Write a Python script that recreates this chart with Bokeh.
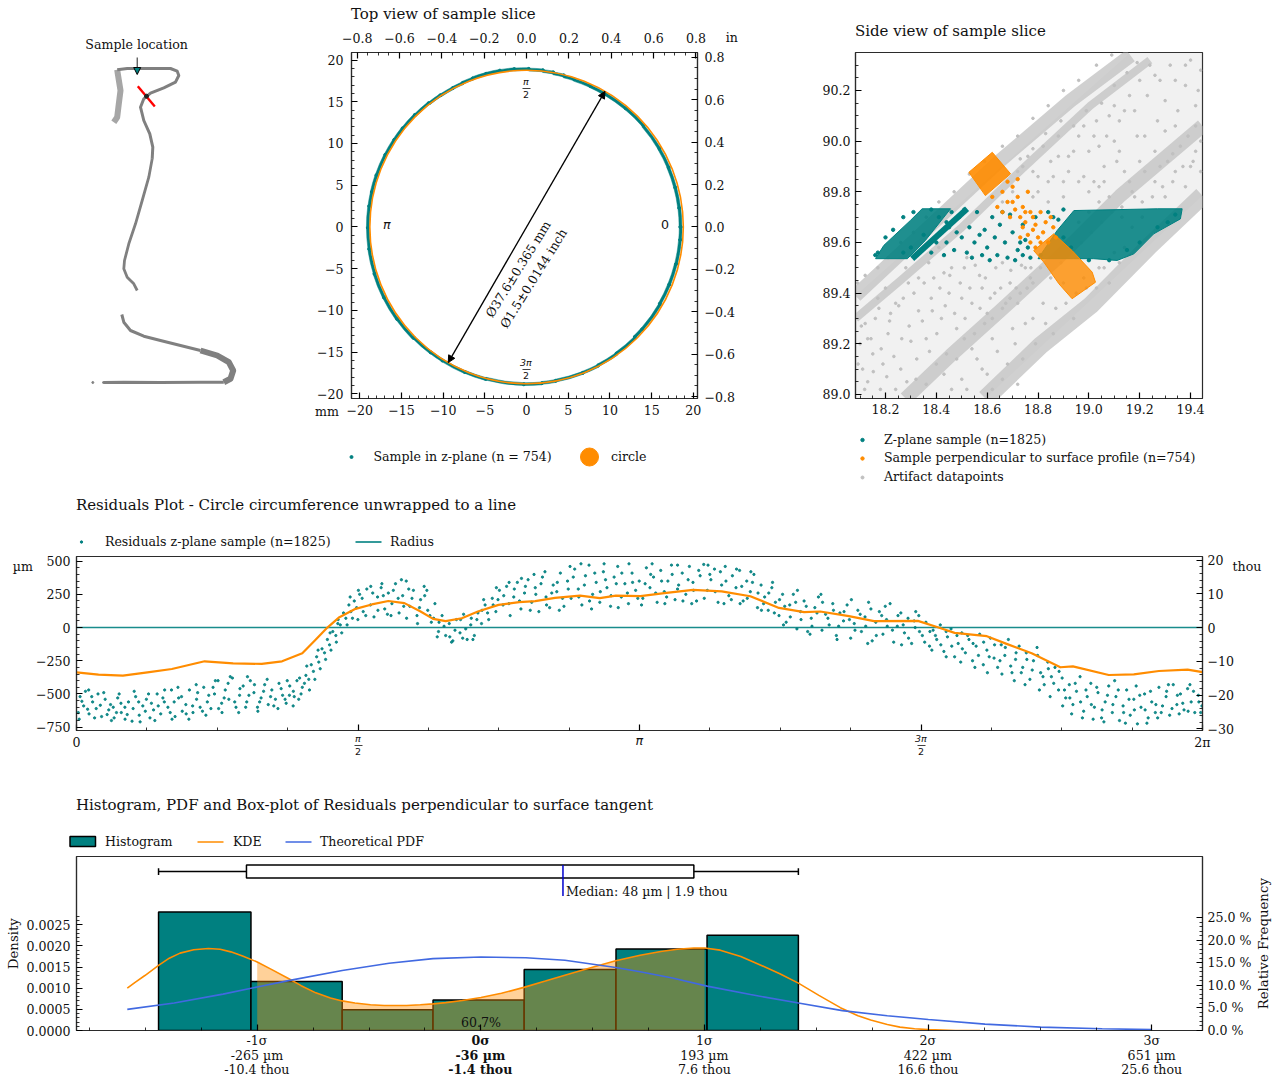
from bokeh.plotting import figure
from bokeh.layouts import column, row
from bokeh.models import (Range1d, LinearAxis, FixedTicker, Label, Arrow, NormalHead)
from bokeh.embed import file_html
from bokeh.resources import INLINE
import math

SERIF = "DejaVu Serif"
SANS = "DejaVu Sans"
TEAL = "#008080"
ORANGE = "#ff8c00"
BLUE = "#4169e1"
SILVER = "#c0c0c0"
FRAME = "#2b2b2b"

# ---- silhouette
sil_hang_x = [113.3, 116.7, 118.3, 120.0, 117.3, 116.7]
sil_hang_y = [121.7, 116.7, 103.3, 90.0, 73.3, 69.3]
sil_top_x = [116.7, 126.7, 146.7, 170.0, 176.7, 178.3, 175.0, 163.3, 150.0, 143.3, 140.0, 143.3, 149.3, 152.3, 151.7]
sil_top_y = [69.3, 68.0, 68.0, 68.0, 70.7, 75.0, 81.7, 87.3, 92.7, 98.3, 106.7, 120.0, 133.3, 146.7, 158.3]
sil_mid_x = [151.7, 148.3, 141.7, 135.0, 128.3, 124.0, 123.3, 126.7, 133.3, 136.7]
sil_mid_y = [158.3, 176.7, 200.0, 223.3, 243.3, 260.0, 268.3, 276.7, 283.3, 290.0]
sil_low_x = [121.3, 123.3, 130.0, 143.3, 160.0, 180.0, 200.0]
sil_low_y = [314.0, 321.7, 330.0, 335.7, 340.0, 345.0, 350.0]
sil_loop_x = [200.0, 216.7, 228.3, 232.7, 230.0, 223.3]
sil_loop_y = [350.0, 355.0, 361.7, 370.0, 378.3, 381.7]
sil_base_x = [223.3, 200.0, 160.0, 123.3, 103.3]
sil_base_y = [381.7, 381.7, 382.0, 381.7, 382.0]
sil_speck_x = [92.3, 103.0, 106.0, 111.0]
sil_speck_y = [382.0, 382.0, 382.0, 382.0]
cut_x = [137.3, 154.3]
cut_y = [85.7, 106.0]

# ---- residuals: orange trace (perpendicular sample), radians / um
trace_theta = [0, .123, .259, .396, .532, .715, .874, 1.034, 1.147, 1.26, 1.33, 1.40, 1.467, 1.557, 1.648, 1.74, 1.83, 1.92,
               1.99, 2.06, 2.15, 2.24, 2.355, 2.47, 2.56, 2.67, 2.81, 2.92, 3.01, 3.147, 3.28, 3.44, 3.60, 3.76, 3.92,
               4.06, 4.15, 4.31, 4.45, 4.695, 4.81, 4.90, 5.08, 5.19, 5.33, 5.49, 5.56, 5.76, 5.90, 6.04, 6.20, 6.283]
trace_um = [-337, -355, -362, -337, -312, -254, -269, -274, -254, -194, -98, 0, 78, 141, 174, 200, 184, 121,
            65, 48, 70, 121, 171, 191, 199, 224, 241, 221, 241, 236, 259, 284, 272, 236, 148,
            116, 121, 86, 48, 50, 0, -40, -65, -123, -194, -299, -292, -357, -352, -327, -317, -335]

# ---- residuals: z-plane scatter, (radians, um) read along the band
resid_a = [(0.01,-640),(0.02,-520),(0.04,-590),(0.05,-480),(0.07,-650),(0.09,-560),(0.11,-610),(0.12,-500),(0.14,-670),(0.16,-540),
           (0.18,-620),(0.19,-580),(0.21,-680),(0.23,-530),(0.25,-640),(0.27,-600),(0.29,-560),(0.31,-705),(0.33,-520),(0.35,-660),
           (0.37,-590),(0.39,-540),(0.41,-680),(0.43,-620),(0.45,-500),(0.47,-650),(0.49,-560),(0.51,-600),(0.53,-470),(0.55,-670),
           (0.57,-530),(0.59,-630),(0.61,-580),(0.63,-470),(0.65,-640),(0.67,-540),(0.69,-600),(0.71,-450),(0.73,-560),(0.75,-610),
           (0.77,-500),(0.79,-400),(0.81,-570),(0.83,-470),(0.85,-540),(0.87,-380),(0.89,-600),(0.91,-510),(0.93,-440),(0.95,-560),
           (0.97,-400),(0.99,-490),(1.01,-600),(1.03,-530),(1.05,-430),(1.07,-580),(1.09,-470),(1.11,-540),(1.13,-420),(1.15,-510),
           (1.17,-570),(1.19,-440),(1.21,-480),(1.23,-400)]
resid_b = [(1.24,-540),(1.26,-450),(1.28,-360),(1.30,-470),(1.31,-280),(1.33,-390),(1.34,-220),(1.36,-310),(1.37,-160),(1.39,-240),
           (1.40,-90),(1.42,-170),(1.43,-30),(1.45,-110),(1.46,60),(1.48,-40),(1.49,110),(1.51,20),(1.52,170),(1.54,70),(1.55,200),(1.57,60),
           (1.58,250),(1.60,120),(1.62,290),(1.64,170),(1.66,80),(1.68,230),(1.70,300),(1.72,140),(1.74,260),(1.76,180),(1.78,330),(1.80,110),
           (1.82,240),(1.84,350),(1.86,160),(1.88,280),(1.90,90),(1.92,210),(1.94,310),(1.96,130),(1.98,40),(2.00,180)]
resid_c = [(2.02,-30),(2.04,90),(2.06,-60),(2.08,30),(2.10,-100),(2.12,60),(2.14,-40),(2.16,100),(2.18,-90),(2.20,20),(2.22,-60),
           (2.24,110),(2.26,30),(2.28,170),(2.30,60),(2.32,220),(2.34,120),(2.36,280),(2.38,170),(2.40,310),(2.42,90),(2.44,230),(2.46,340),
           (2.48,140),(2.50,260),(2.52,360),(2.54,190),(2.56,300),(2.58,120),(2.60,380),(2.62,230),(2.64,150),(2.66,320),(2.68,270),(2.70,410),
           (2.72,160),(2.74,350),(2.76,220),(2.78,440),(2.80,290),(2.82,170),(2.84,390),(2.86,470),(2.88,250),(2.90,340),(2.92,190),(2.94,420),
           (2.96,300),(2.98,160),(3.00,380),(3.02,460),(3.04,230),(3.06,330),(3.08,180),(3.10,410),(3.12,280),(3.14,350)]
resid_d = [(3.16,220),(3.18,450),(3.20,300),(3.22,380),(3.24,190),(3.26,430),(3.28,270),(3.30,350),(3.32,470),(3.34,210),(3.36,320),
           (3.38,410),(3.40,250),(3.42,460),(3.44,340),(3.46,200),(3.48,390),(3.50,475),(3.52,280),(3.54,360),(3.56,440),(3.58,190),(3.60,320),
           (3.62,460),(3.64,240),(3.66,390),(3.68,300),(3.70,430),(3.72,200),(3.74,350),(3.76,270),(3.78,400),(3.80,150),(3.82,320),
           (3.84,230),(3.86,130),(3.88,300),(3.90,190),(3.92,90),(3.94,250),(3.96,40),(3.98,170),(4.00,250),(4.02,-10),(4.04,120),(4.06,200),
           (4.08,-30),(4.10,70),(4.12,150),(4.14,230),(4.16,-20),(4.18,100),(4.20,20),(4.22,180),(4.24,-60),(4.26,110),(4.28,50),(4.30,170),
           (4.32,-80),(4.34,30),(4.36,130),(4.38,-30),(4.40,80),(4.42,190),(4.44,-100),(4.46,40),(4.48,120),(4.50,-50),(4.52,60),(4.54,180),
           (4.56,-110),(4.58,10),(4.60,110),(4.62,-40),(4.64,70),(4.66,-120),(4.68,0),(4.70,90)]
resid_e = [(4.72,-60),(4.74,40),(4.76,-140),(4.78,-20),(4.80,-90),(4.82,20),(4.84,-180),(4.86,-70),(4.88,-10),(4.90,-220),(4.92,-120),
           (4.94,-40),(4.96,-190),(4.98,-90),(5.00,-250),(5.02,-140),(5.04,-50),(5.06,-280),(5.08,-170),(5.10,-80),(5.12,-230),(5.14,-300),
           (5.16,-130),(5.18,-210),(5.20,-90),(5.22,-340),(5.24,-240),(5.26,-140),(5.28,-300),(5.30,-190),(5.32,-390),(5.34,-250),(5.36,-150),
           (5.38,-340),(5.40,-430),(5.42,-260),(5.44,-370),(5.46,-300),(5.48,-470),(5.50,-380),(5.52,-530),(5.54,-430),(5.56,-580),(5.58,-480),
           (5.60,-370),(5.62,-630),(5.64,-520),(5.66,-420),(5.68,-600),(5.70,-490),(5.72,-680),(5.74,-560),(5.76,-440),(5.78,-640),(5.80,-520),
           (5.82,-700),(5.84,-590),(5.86,-470),(5.88,-660),(5.90,-540),(5.92,-725),(5.94,-600),(5.96,-500),(5.98,-680),(6.00,-560),(6.02,-640),
           (6.04,-450),(6.06,-590),(6.08,-520),(6.10,-660),(6.12,-430),(6.14,-580),(6.16,-500),(6.18,-620),(6.20,-460),(6.22,-560),(6.24,-640),
           (6.26,-510),(6.28,-590)]
resid_f = [(0.03,-555),(0.062,-615),(0.085,-520),(0.133,-585),(0.171,-655),(0.205,-600),(0.223,-640),(0.248,-570),(0.283,-655),(0.316,-610),
           (0.347,-560),(0.384,-630),(0.418,-570),(0.456,-590),(0.482,-530),(0.523,-640),(0.545,-560),(0.586,-520),(0.612,-650),(0.648,-590),
           (0.676,-490),(0.703,-630),(0.738,-510),(0.762,-450),(0.793,-610),(0.824,-530),(0.846,-420),(0.883,-560),(0.912,-460),(0.944,-600),
           (0.962,-510),(0.993,-430),(1.022,-560),(1.044,-480),(1.083,-520),(1.101,-590),(1.142,-460),(1.164,-540),(1.188,-510),
           (1.215,-520),(1.253,-500),(1.272,-420),(1.296,-390),(1.322,-330),(1.352,-260),(1.384,-190),(1.412,-130),(1.447,-60),(1.472,20),
           (1.503,70),(1.531,120),(1.563,150),(1.594,220),(1.614,90),(1.653,260),(1.682,130),(1.712,240),(1.735,100),(1.768,280),(1.795,220),
           (1.826,160),(1.854,290),(1.872,220),(1.914,150),(1.943,240),(1.972,90),(1.993,70),
           (2.023,40),(2.051,10),(2.083,-70),(2.112,-20),(2.143,60),(2.172,-10),(2.203,70),(2.234,60),(2.263,130),(2.294,110),(2.325,170),
           (2.352,210),(2.384,240),(2.413,180),(2.443,290),(2.472,200),(2.505,310),(2.532,130),(2.563,250),(2.592,330),(2.623,170),(2.652,260),
           (2.683,340),(2.712,220),(2.744,290),(2.772,380),(2.803,230),(2.834,320),(2.863,200),(2.892,410),(2.923,270),(2.952,360),(2.983,240),
           (3.012,330),(3.043,410),(3.074,260),(3.103,340),(3.132,220)]
resid_g = [(3.173,330),(3.204,400),(3.232,260),(3.265,350),(3.293,230),(3.324,400),(3.354,290),(3.384,200),(3.413,360),(3.443,280),(3.472,430),
           (3.503,220),(3.534,400),(3.564,270),(3.593,420),(3.624,350),(3.654,210),(3.683,440),(3.712,310),(3.743,220),(3.772,340),(3.803,260),
           (3.834,180),(3.863,260),(3.894,110),(3.923,210),(3.952,160),(3.983,80),(4.013,190),(4.043,60),(4.072,160),(4.104,10),(4.132,110),
           (4.163,190),(4.193,70),(4.224,130),(4.253,10),(4.283,120),(4.313,60),(4.344,-20),(4.373,100),(4.404,10),(4.433,140),(4.463,-60),
           (4.493,90),(4.524,10),(4.553,-20),(4.584,90),(4.613,20),(4.643,-80),(4.674,50),(4.704,-30),
           (4.733,-110),(4.762,-30),(4.793,-60),(4.823,-130),(4.853,-30),(4.884,-140),(4.913,-60),(4.943,-160),(4.973,-60),(5.003,-120),(5.033,-210),
           (5.062,-110),(5.093,-220),(5.123,-130),(5.153,-250),(5.183,-150),(5.213,-290),(5.243,-190),(5.272,-340),(5.303,-240),(5.333,-320),
           (5.363,-210),(5.393,-370),(5.423,-310),(5.453,-420),(5.483,-330),(5.513,-470),(5.543,-530),(5.573,-420),(5.603,-560),(5.633,-470),
           (5.663,-580),(5.693,-450),(5.723,-620),(5.753,-510),(5.783,-580),(5.813,-470),(5.843,-640),(5.873,-540),(5.903,-620),(5.933,-510),
           (5.963,-620),(5.993,-480),(6.023,-580),(6.053,-640),(6.083,-480),(6.113,-610),(6.143,-510),(6.173,-570),(6.203,-630),(6.233,-480),(6.263,-560)]
resid_h = [(0.015,-690),(0.068,-470),(0.101,-680),(0.152,-490),(0.195,-700),(0.238,-500),(0.271,-690),(0.322,-480),(0.355,-710),(0.402,-500),
           (0.437,-700),(0.492,-470),(0.533,-690),(0.566,-450),(0.627,-690),(0.668,-430),(0.722,-660),(0.775,-400),(0.812,-640),(0.858,-370),
           (0.905,-640),(0.954,-370),(1.012,-630),(1.064,-390),(1.124,-610),(1.176,-400),(1.209,-590),(1.245,-380),(1.285,-290),(1.348,-170),
           (1.415,-40),(1.458,30),(1.527,230),(1.573,280),(1.642,310),(1.704,330),(1.755,90),(1.813,360),(1.842,70),(1.903,30),(1.955,280),
           (2.013,-70),(2.093,-110),(2.155,-80),(2.212,-90),(2.272,210),(2.343,300),(2.414,340),(2.483,370),(2.553,400),(2.614,420),(2.694,130),
           (2.754,460),(2.815,480),(2.874,140),(2.944,480),(3.023,150),(3.083,480),(3.153,170),(3.212,480),(3.283,180),(3.354,470),(3.433,180),
           (3.524,470),(3.613,180),(3.703,180),(3.763,420),(3.822,130),(3.884,340),(3.945,20),(4.023,280),(4.093,-50),(4.154,250),(4.244,-90),
           (4.324,210),(4.415,-120),(4.513,160),(4.604,-130),(4.683,120),(4.773,-170),(4.853,-220),(4.934,-260),(5.013,-300),(5.083,-340),
           (5.164,-350),(5.233,-400),(5.293,-430),(5.373,-470),(5.433,-520),(5.503,-590),(5.553,-650),(5.613,-680),(5.673,-690),(5.733,-710),
           (5.793,-400),(5.853,-720),(5.913,-440),(5.973,-720),(6.033,-680),(6.093,-430),(6.153,-650),(6.213,-430),(6.273,-640)]

# ---- side view
stripe1_x = [18.082, 18.377, 18.652, 18.928, 19.164]
stripe1_y = [89.39, 89.667, 89.924, 90.16, 90.338]
stripe2_x = [18.082, 18.259, 18.495, 18.731, 19.006, 19.24]
stripe2_y = [89.30, 89.45, 89.655, 89.884, 90.14, 90.32]
stripe3_x = [18.279, 18.456, 18.652, 18.888, 19.124, 19.447]
stripe3_y = [88.984, 89.154, 89.331, 89.549, 89.785, 90.06]
stripe4_x = [18.593, 18.81, 19.006, 19.24, 19.447]
stripe4_y = [88.984, 89.193, 89.351, 89.588, 89.785]
swath_x = [18.082, 19.164, 19.447, 19.447, 18.593, 18.082]
swath_y = [89.39, 90.35, 90.35, 89.785, 88.984, 88.984]
grey_pts = [(18.10,89.20),(18.13,89.05),(18.16,89.30),(18.19,89.12),(18.21,89.24),(18.24,89.02),(18.27,89.38),(18.30,89.21),(18.33,89.33),
            (18.36,89.22),(18.39,89.46),(18.42,89.30),(18.45,89.40),(18.48,89.26),(18.51,89.50),(18.54,89.36),(18.57,89.47),(18.60,89.32),
            (18.63,89.40),(18.66,89.52),(18.69,89.44),(18.72,89.36),(18.75,89.50),(18.78,89.44),(18.12,89.28),(18.15,89.16),(18.18,89.02),
            (18.22,89.32),(18.26,89.10),(18.29,89.44),(18.38,89.38),(18.43,89.48),(18.50,89.38),(18.58,89.42),(18.11,89.10),
            (18.70,89.80),(18.74,89.90),(18.78,89.78),(18.82,89.98),(18.86,89.86),(18.90,89.78),(18.94,89.96),(18.98,89.86),(19.02,90.02),
            (19.06,89.90),(19.10,90.00),(19.14,89.88),(19.18,90.12),(19.22,90.02),(19.26,89.96),(19.30,90.16),(19.34,90.06),(19.38,90.22),
            (19.42,90.14),(18.80,89.86),(18.88,89.94),(18.96,90.02),(19.04,89.82),(19.12,90.08),(19.20,89.92),(19.28,90.24),(19.36,89.98),
            (19.44,90.28),(19.32,90.30),(19.40,90.32),(19.24,90.30),(19.16,90.18),(19.08,90.10),(19.00,89.80),(18.92,89.88),(18.84,89.76),
            (19.18,89.78),(19.26,89.84),(19.34,89.88),(19.42,89.96),(19.30,89.78),(19.38,89.82),(19.44,89.88),
            (18.58,89.10),(18.62,89.22),(18.66,89.06),(18.70,89.26),(18.74,89.14),(18.78,89.30),(18.82,89.36),(18.86,89.24),(18.90,89.44),
            (18.94,89.30),(18.98,89.46),(18.50,89.06),(18.54,89.18),(18.46,89.02),(18.62,89.02),(18.72,89.04),(19.04,89.50),(19.08,89.44),(19.12,89.52)]
grey_more = [(18.092,89.12),(18.105,89.27),(18.118,89.02),(18.143,89.22),(18.152,89.09),(18.174,89.34),(18.183,89.18),(18.205,89.07),(18.216,89.29),
             (18.233,89.15),(18.252,89.35),(18.264,89.22),(18.284,89.05),(18.293,89.27),(18.312,89.40),(18.323,89.14),(18.345,89.29),(18.352,89.44),
             (18.373,89.17),(18.384,89.33),(18.402,89.24),(18.414,89.42),(18.435,89.35),(18.453,89.47),(18.472,89.32),(18.494,89.44),(18.513,89.30),
             (18.532,89.42),(18.553,89.51),(18.572,89.34),(18.593,89.46),(18.612,89.38),(18.634,89.50),(18.653,89.42),(18.673,89.36),(18.693,89.49),
             (18.714,89.42),(18.735,89.51),(18.757,89.42),(18.772,89.50),(18.52,89.02),(18.43,89.08),(18.56,89.14),(18.60,89.08),(18.64,89.17),
             (18.68,89.12),(18.71,89.20),(18.75,89.28),(18.79,89.20),(18.83,89.28),(18.87,89.34),(18.91,89.36),(18.95,89.40),(18.99,89.42),(19.03,89.42),
             (19.06,89.50),(19.10,89.56),(19.14,89.58),(19.17,89.66),(19.21,89.70),(18.66,89.76),(18.72,89.88),(18.76,89.94),(18.80,89.80),(18.85,89.92),
             (18.88,90.02),(18.92,89.94),(18.96,89.84),(19.00,89.96),(19.03,90.08),(19.07,90.02),(19.11,89.92),(19.14,90.12),(19.19,90.02),(19.23,90.18),
             (19.27,90.08),(19.31,89.92),(19.35,90.12),(19.39,90.02),(19.43,90.20),(19.26,90.26),(19.34,90.24),(19.42,90.06),(19.20,90.24),(19.38,90.30),
             (19.30,90.04),(19.10,90.14),(19.04,89.98),(18.98,90.06),(18.90,89.84),(18.84,89.84),(18.78,89.88),(19.16,89.84),(19.22,89.88),(19.28,89.90),
             (19.33,89.95),(19.40,89.90),(19.44,90.00),(19.12,89.96),(19.06,89.84)]
grey_edge = [(18.09,89.44),(18.12,89.47),(18.17,89.50),(18.21,89.54),(18.26,89.60),(18.31,89.64),(18.36,89.70),(18.41,89.76),(18.47,89.80),(18.53,89.87),
             (18.59,89.92),(18.66,89.98),(18.72,90.02),(18.78,90.09),(18.84,90.14),(18.90,90.20),(18.96,90.24),(19.03,90.30),(19.09,90.34),
             (18.13,89.22),(18.17,89.38),(18.20,89.42),(18.24,89.36),(18.28,89.50),(18.33,89.46),(18.37,89.52),(18.41,89.58),(18.46,89.50),(18.52,89.54),
             (18.32,89.06),(18.36,89.04),(18.40,89.12),(18.44,89.16),(18.48,89.14),(18.51,89.22),(18.55,89.24),(18.59,89.28),(18.62,89.30),(18.66,89.34),
             (18.69,89.38),(18.73,89.40),(18.77,89.46),(18.81,89.50),(18.85,89.46),(18.89,89.52),(18.93,89.56),(18.97,89.60),(19.01,89.64),(19.05,89.68),
             (19.09,89.72),(19.13,89.74),(19.17,89.80),(19.21,89.76),(19.25,89.78),(19.29,89.82),(19.33,89.84),(19.37,89.90),(19.41,89.92),
             (19.10,90.22),(19.15,90.27),(19.19,90.31),(19.05,90.15),(18.99,90.12),(18.94,90.06),(18.89,90.08),(18.83,90.03),(18.78,89.97),(18.73,89.93),
             (19.00,89.72),(19.04,89.76),(18.96,89.68),(19.13,89.70),(19.08,89.78),(19.02,89.84)]
teal_left_x = [18.161, 18.193, 18.298, 18.344, 18.456, 18.357, 18.286]
teal_left_y = [89.536, 89.588, 89.687, 89.733, 89.733, 89.608, 89.536]
teal_strip_x = [18.521, 18.305]
teal_strip_y = [89.733, 89.536]
teal_right_x = [18.875, 18.941, 19.269, 19.367, 19.360, 19.255, 19.177, 19.111, 19.019, 18.941, 18.80]
teal_right_y = [89.647, 89.726, 89.733, 89.733, 89.693, 89.634, 89.555, 89.529, 89.536, 89.536, 89.536]
teal_pts = [(18.40,89.60),(18.43,89.55),(18.45,89.66),(18.47,89.57),(18.49,89.70),(18.50,89.62),(18.52,89.56),(18.53,89.66),(18.55,89.60),
            (18.56,89.72),(18.58,89.55),(18.59,89.65),(18.60,89.58),(18.62,89.70),(18.63,89.62),(18.64,89.55),(18.65,89.67),(18.67,89.60),
            (18.68,89.54),(18.69,89.71),(18.70,89.64),(18.72,89.57),(18.74,89.67),(18.75,89.61),(18.77,89.54),(18.79,89.70),(18.81,89.55),
            (18.84,89.72),(18.86,89.70),(18.88,89.69),(18.90,89.73),(18.46,89.72),(18.51,89.73),(18.54,89.54),(18.61,89.53),(18.71,89.53),
            (18.74,89.55),(18.42,89.64),(18.38,89.56),(18.57,89.63),(18.66,89.72),(18.73,89.60),(18.76,89.58),(18.48,89.64),(18.44,89.60),
            (18.17,89.56),(18.16,89.55),(18.20,89.62),(18.23,89.65),(18.27,89.70),(18.31,89.72),(18.38,89.73),(18.41,89.70),(18.44,89.68),(18.30,89.58),
            (18.27,89.56),(18.35,89.63),(18.90,89.62),(18.93,89.58),(19.0,89.53),(19.08,89.53),(19.15,89.57),(19.2,89.6),(19.27,89.66),(19.31,89.68),(19.34,89.71)]
orange_top_x = [18.528, 18.62, 18.692, 18.593]
orange_top_y = [89.877, 89.956, 89.871, 89.785]
orange_low_x = [18.783, 18.862, 18.934, 19.013, 19.026, 18.934, 18.882, 18.823]
orange_low_y = [89.568, 89.634, 89.568, 89.483, 89.443, 89.378, 89.437, 89.522]
orange_pts = [(18.62,89.78),(18.64,89.74),(18.66,89.80),(18.68,89.76),(18.70,89.82),(18.72,89.78),(18.74,89.74),(18.66,89.72),(18.69,89.70),
              (18.71,89.73),(18.73,89.70),(18.75,89.68),(18.77,89.72),(18.79,89.67),(18.81,89.72),(18.83,89.68),(18.74,89.66),(18.76,89.63),
              (18.78,89.65),(18.80,89.62),(18.82,89.64),(18.84,89.60),(18.86,89.66),(18.77,89.60),(18.79,89.58),(18.81,89.60),(18.75,89.72),
              (18.68,89.84),(18.72,89.85),(18.76,89.80),(18.70,89.76),(18.85,89.70),(18.87,89.62),(18.73,89.62),(18.78,89.70)]

# ---- histogram, um / density
bin_edges = [-366, -271.4, -178, -85, 8.3, 102.3, 195.5, 289]
bin_density = [0.0028, 0.00116, 0.00049, 0.00072, 0.00144, 0.00193, 0.00225]
kde_x = [-398, -390, -380, -366, -355, -344, -330, -315, -303, -292, -280, -265, -250, -233, -220, -205, -190, -178, -165, -149, -135, -126, -112, -98, -85, -72, -55, -36, -15, 8, 30, 56, 80, 102, 127, 148, 165, 182, 193, 209, 230, 250, 270, 289, 310, 332, 350, 363, 380, 393, 408, 422, 450, 475]
kde_y = [.0010, .00114, .00130, .00154, .00171, .00183, .00191, .00194, .00192, .00186, .00176, .00162, .00144, .00123, .00106, .00089, .00077, .00070, .00065, .00061, .00059, .00059, .00059, .00061, .00063, .00066, .00071, .00078, .00088, .00102, .00117, .00135, .00151, .00165, .00178, .00187, .00192, .00195, .00195, .00190, .00175, .00155, .00134, .00112, .00083, .00054, .00035, .00025, .00014, .00008, .00004, .00002, 0, 0]
pdf_x = [-398, -350, -300, -265, -233, -178, -130, -85, -36, 10, 50, 102, 127, 160, 195.5, 240, 289, 334, 380, 422, 480, 537, 600, 651]
pdf_y = [.0005, .00065, .00086, .00103, .00118, .00142, .00159, .00170, .00174, .00172, .00166, .00149, .00139, .00124, .00105, .00085, .00065, .00047, .00035, .00026, .00015, .00008, .00004, .00002]
box_stats = dict(lo=-366, q1=-276, med=48, q3=182, hi=289)
sigma_um = [-265, -36, 193, 422, 651]
sigma_name = ["-1\u03c3", "0\u03c3", "1\u03c3", "2\u03c3", "3\u03c3"]
sigma_micron = ["-265 \u00b5m", "-36 \u00b5m", "193 \u00b5m", "422 \u00b5m", "651 \u00b5m"]
sigma_thou = ["-10.4 thou", "-1.4 thou", "7.6 thou", "16.6 thou", "25.6 thou"]
density_ticks = [0, 0.0005, 0.001, 0.0015, 0.002, 0.0025]
density_labels = ["0.0000", "0.0005", "0.0010", "0.0015", "0.0020", "0.0025"]
freq_ticks = [0, 5, 10, 15, 20, 25]
freq_labels = ["0.0 %", "5.0 %", "10.0 %", "15.0 %", "20.0 %", "25.0 %"]

mm_ticks = [-20, -15, -10, -5, 0, 5, 10, 15, 20]
in_ticks = [-0.8, -0.6, -0.4, -0.2, 0.0, 0.2, 0.4, 0.6, 0.8]
side_x_ticks = [18.2, 18.4, 18.6, 18.8, 19.0, 19.2, 19.4]
side_y_ticks = [89.0, 89.2, 89.4, 89.6, 89.8, 90.0, 90.2]
um_ticks = [-750, -500, -250, 0, 250, 500]
thou_ticks = [-30, -20, -10, 0, 10, 20]
R_MM = 18.8

TICK = 12.6
TITLE = 15
def fmt(v, d=0):
    s = f"{abs(v):.{d}f}"
    return ("\u2212" + s) if v < 0 else s

def base(w, h, xr, yr, l, r, t, b):
    p = figure(width=w, height=h, x_range=xr, y_range=yr, output_backend="svg", toolbar_location=None,
               min_border_left=l, min_border_right=r, min_border_top=t, min_border_bottom=b,
               x_axis_location=None, y_axis_location=None)
    p.grid.visible = False
    p.outline_line_color = FRAME
    p.outline_line_width = 1.2
    return p

def style(ax, ticks, labels, minor, maj=6, mnr=3, size=TICK, font=SERIF, standoff=5):
    ax.ticker = FixedTicker(ticks=list(ticks), minor_ticks=list(minor))
    ax.major_label_overrides = dict(zip(ticks, labels))
    ax.major_tick_in = maj
    ax.major_tick_out = 0
    ax.minor_tick_in = mnr
    ax.minor_tick_out = 0
    ax.major_tick_line_color = "black"
    ax.major_tick_line_width = 1.2
    ax.minor_tick_line_color = "black"
    ax.minor_tick_line_width = 0.8
    ax.axis_line_color = FRAME
    ax.axis_line_width = 1.2
    ax.major_label_text_font = font
    ax.major_label_text_font_size = f"{size}px"
    ax.major_label_text_color = "#111111"
    ax.major_label_standoff = standoff

# transparent sheet over the whole page: its frame spans the page, so texts and keys outside the plot frames are not clipped
PAGE_W, PAGE_H = 1279, 1081
sheet = figure(width=PAGE_W, height=PAGE_H, x_range=Range1d(0, PAGE_W), y_range=Range1d(PAGE_H, 0), output_backend="svg",
               toolbar_location=None, min_border=0, min_border_left=0, min_border_right=0, min_border_top=0, min_border_bottom=0,
               x_axis_location=None, y_axis_location=None, background_fill_alpha=0, border_fill_alpha=0)
sheet.grid.visible = False
sheet.outline_line_color = None
sheet.styles = {"position": "absolute", "top": "0px", "left": "0px", "pointer-events": "none"}

def lab(px, py, text, size=12.6, font=SERIF, align="left", baseline="middle", angle=0, fstyle="normal", color="#111111"):
    # labels sit about a pixel low and to the right of the nominal point in this renderer
    sheet.add_layout(Label(x=px - 0.6, y=py - 0.8, text=text, text_font=font, text_font_size=f"{size}px", text_align=align,
                           text_baseline=baseline, angle=angle, text_font_style=fstyle, text_color=color))

def frac(px, py, num, den, size=9.5):
    lab(px, py - 6, num, size=size, font=SANS, align="center", fstyle="italic")
    sheet.segment([px - 4], [py], [px + 4], [py], line_color="#111111", line_width=0.8)
    lab(px, py + 6.5, den, size=size, font=SANS, align="center")

# ========== sample profile ==========
W0, H1 = 300, 490
p0 = figure(width=W0, height=H1, x_range=Range1d(0, W0), y_range=Range1d(398, 52), output_backend="svg",
            toolbar_location=None, min_border_left=0, min_border_right=0, min_border_top=52, min_border_bottom=92,
            x_axis_location=None, y_axis_location=None)
p0.grid.visible = False
p0.outline_line_color = None
GREY = "#808080"
p0.line(sil_hang_x, sil_hang_y, line_color=GREY, line_width=6, line_alpha=0.7, line_join="round")
p0.line(sil_top_x, sil_top_y, line_color=GREY, line_width=3, line_join="round")
p0.line(sil_mid_x, sil_mid_y, line_color=GREY, line_width=2.8, line_join="round")
p0.line(sil_low_x, sil_low_y, line_color=GREY, line_width=3, line_join="round")
p0.line(sil_loop_x, sil_loop_y, line_color=GREY, line_width=6, line_join="round")
p0.line(sil_base_x, sil_base_y, line_color=GREY, line_width=3, line_join="round")
p0.scatter(sil_speck_x, sil_speck_y, size=2, color=GREY)
p0.line(cut_x, cut_y, line_color="red", line_width=2.4)
p0.scatter([146], [95.7], size=4, color="#222222")
p0.add_layout(Arrow(end=NormalHead(size=7, fill_color=TEAL, line_color="black", line_width=1), x_start=136.7, y_start=57,
                    x_end=136.7, y_end=74, line_color="#222222", line_width=1))
lab(136.7, 44.5, "Sample location", align="center")

# ========== top view ==========
W1 = 470
p1 = base(W1, H1, Range1d(-21, 20.5), Range1d(-20.55, 20.9), 51, 73, 52, 92)
p1.extra_x_ranges = {"in": Range1d(-21 / 25.4, 20.5 / 25.4)}
p1.extra_y_ranges = {"in": Range1d(-20.55 / 25.4, 20.9 / 25.4)}
mm_minor = [v for v in range(-20, 21) if v % 5]
in_minor = [k * 0.05 for k in range(-16, 17) if k % 4]
ax = LinearAxis(); style(ax, mm_ticks, [fmt(v) for v in mm_ticks], mm_minor, standoff=6); p1.add_layout(ax, "below")
ax = LinearAxis(); style(ax, mm_ticks, [fmt(v) for v in mm_ticks], mm_minor, standoff=8); p1.add_layout(ax, "left")
ax = LinearAxis(x_range_name="in"); style(ax, in_ticks, [fmt(v, 1) for v in in_ticks], in_minor, standoff=10); p1.add_layout(ax, "above")
ax = LinearAxis(y_range_name="in"); style(ax, in_ticks, [fmt(v, 1) for v in in_ticks], in_minor, standoff=7); p1.add_layout(ax, "right")
ring_r = [R_MM + u / 1000 for u in trace_um]
ring_x = [r * math.cos(t) for r, t in zip(ring_r, trace_theta)]
ring_y = [r * math.sin(t) for r, t in zip(ring_r, trace_theta)]
p1.annular_wedge(x=0, y=0, inner_radius=[r - 0.17 for r in ring_r[:-1]], outer_radius=[r + 0.17 for r in ring_r[:-1]],
                 start_angle=trace_theta[:-1], end_angle=trace_theta[1:], fill_color=TEAL, line_color=TEAL, line_width=0.5)
p1.scatter(ring_x, ring_y, size=3, color=TEAL)
p1.circle(x=[0], y=[0], radius=[R_MM], fill_alpha=0, line_color=ORANGE, line_width=1.6)
p1.add_layout(Arrow(start=NormalHead(size=7, fill_color="black"), end=NormalHead(size=7, fill_color="black"),
                    x_start=-9.4, y_start=-16.25, x_end=9.4, y_end=16.25, line_color="black", line_width=1.3))
p1.add_layout(Label(x=-0.1, y=-5.6, text="\u00d837.6\u00b10.365 mm\n\u00d81.5\u00b10.0144 inch", angle=58, angle_units="deg",
                    text_font=SERIF, text_font_size="12.4px", text_align="center", text_baseline="middle", text_color="#111111"))
lab(351, 14.5, "Top view of sample slice", size=TITLE)
lab(732, 37.5, "in", align="center")
lab(327, 411.5, "mm", align="center")
lab(665, 225, "0", font=SANS, align="center")
lab(387, 225, "\u03c0", font=SANS, align="center", fstyle="italic")
frac(526, 88, "\u03c0", "2")
frac(526, 369, "3\u03c0", "2")
sheet.scatter([351], [456.5], size=3, color=TEAL)
lab(373.5, 456.5, "Sample in z-plane (n = 754)")
sheet.scatter([589], [456.5], size=18, color=ORANGE)
lab(611, 456.5, "circle")

# ========== side view ==========
W2 = 500
p2 = base(W2, H1, Range1d(18.082, 19.447), Range1d(88.984, 90.35), 85, 68, 52, 92)
ax = LinearAxis(); style(ax, side_x_ticks, [f"{v:.1f}" for v in side_x_ticks], [18.1 + 0.05 * k for k in range(27) if k % 4 != 2]); p2.add_layout(ax, "below")
ax = LinearAxis(); style(ax, side_y_ticks, [f"{v:.1f}" for v in side_y_ticks], [89.0 + 0.05 * k for k in range(27) if k % 4]); p2.add_layout(ax, "left")
p2.patch(swath_x, swath_y, fill_color=SILVER, fill_alpha=0.22, line_alpha=0)
for sx, sy, w in ((stripe1_x, stripe1_y, 14), (stripe2_x, stripe2_y, 8), (stripe3_x, stripe3_y, 14), (stripe4_x, stripe4_y, 18)):
    p2.line(sx, sy, line_color=SILVER, line_width=w, line_alpha=0.75, line_join="round")
allg = grey_pts + grey_more + grey_edge
p2.scatter([a for a, _ in allg], [b for _, b in allg], size=2.6, color=SILVER)
p2.scatter([a for a, _ in teal_pts], [b for _, b in teal_pts], size=3.4, color=TEAL)
p2.patch(teal_left_x, teal_left_y, fill_color=TEAL, fill_alpha=0.88, line_color=TEAL, line_width=1)
p2.line(teal_strip_x, teal_strip_y, line_color=TEAL, line_width=6)
p2.patch(teal_right_x, teal_right_y, fill_color=TEAL, fill_alpha=0.88, line_color=TEAL, line_width=1)
p2.scatter([a for a, _ in orange_pts], [b for _, b in orange_pts], size=3.4, color=ORANGE)
p2.patch(orange_top_x, orange_top_y, fill_color=ORANGE, fill_alpha=0.9, line_color=ORANGE, line_width=1)
p2.patch(orange_low_x, orange_low_y, fill_color=ORANGE, fill_alpha=0.8, line_color=ORANGE, line_width=1)
lab(855, 31, "Side view of sample slice", size=TITLE)
sheet.scatter([862], [439.5], size=3.4, color=TEAL)
lab(884, 439.5, "Z-plane sample (n=1825)")
sheet.scatter([862], [458], size=3.4, color=ORANGE)
lab(884, 458, "Sample perpendicular to surface profile (n=754)")
sheet.scatter([862], [477], size=3, color=SILVER)
lab(884, 477, "Artifact datapoints")

# ========== residuals ==========
W3, H3 = 1270, 280
p3 = base(W3, H3, Range1d(0, 2 * math.pi), Range1d(-775, 535), 76, 68, 66, 40)
p3.extra_y_ranges = {"thou": Range1d(-775 / 25.4, 535 / 25.4)}
pi = math.pi
ax = LinearAxis()
xt = [0, pi / 2, pi, 3 * pi / 2, 2 * pi]
style(ax, xt, ["0", "", "", "", "2\u03c0"], [k * pi / 8 for k in range(1, 16) if k % 4], maj=6, mnr=3, standoff=4)
p3.add_layout(ax, "below")
ax = LinearAxis(); style(ax, um_ticks, [fmt(v) for v in um_ticks], [k * 50 for k in range(-15, 11) if k % 5], standoff=6); p3.add_layout(ax, "left")
ax = LinearAxis(y_range_name="thou"); style(ax, thou_ticks, [fmt(v) for v in thou_ticks], [k * 2 for k in range(-15, 11) if k % 5]); p3.add_layout(ax, "right")
pts = resid_a + resid_b + resid_c + resid_d + resid_e + resid_f + resid_g + resid_h
p3.scatter([a for a, _ in pts], [b for _, b in pts], size=2.3, color=TEAL, alpha=0.9)
p3.line([0, 2 * pi], [0, 0], line_color=TEAL, line_width=1.6, line_alpha=0.9)
p3.line(trace_theta, trace_um, line_color=ORANGE, line_width=2.2, line_join="round")
lab(76, 505, "Residuals Plot - Circle circumference unwrapped to a line", size=TITLE)
lab(23, 567, "\u00b5m", align="center")
lab(1247, 567, "thou", align="center")
frac(358, 745, "\u03c0", "2")
lab(639.5, 741, "\u03c0", font=SANS, align="center", fstyle="italic")
frac(921, 745, "3\u03c0", "2")
sheet.scatter([81], [541.5], size=2.4, color=TEAL)
lab(105, 541.5, "Residuals z-plane sample (n=1825)")
sheet.line([355, 381], [541.5, 541.5], line_color=TEAL, line_width=1.6)
lab(390, 541.5, "Radius")

# ========== histogram ==========
W4, H4 = 1270, 310
p4 = base(W4, H4, Range1d(-450, 702.7), Range1d(0, 0.004115), 76, 68, 86, 50)
p4.extra_y_ranges = {"freq": Range1d(0, 38.6)}
ax = LinearAxis(); style(ax, sigma_um, [""] * 5, [-36 + 57.25 * k for k in range(-7, 13) if k % 4], standoff=6)
p4.add_layout(ax, "below")
ax = LinearAxis(); style(ax, density_ticks, density_labels, [k * 0.0001 for k in range(1, 28) if k % 5], standoff=6); p4.add_layout(ax, "left")
ax = LinearAxis(y_range_name="freq"); style(ax, freq_ticks, freq_labels, [k for k in range(1, 26) if k % 5]); p4.add_layout(ax, "right")
p4.quad(left=bin_edges[:-1], right=bin_edges[1:], bottom=0, top=bin_density, fill_color=TEAL, line_color="black", line_width=1.5)
fill_x = [x for x in kde_x if -265 <= x <= 193]
fill_y = [y for x, y in zip(kde_x, kde_y) if -265 <= x <= 193]
p4.varea(x=fill_x, y1=[0] * len(fill_x), y2=fill_y, fill_color=ORANGE, fill_alpha=0.4)
p4.line(kde_x, kde_y, line_color=ORANGE, line_width=1.6)
p4.line(pdf_x, pdf_y, line_color=BLUE, line_width=1.6)
BY, BH = 0.00376, 0.000154
p4.segment([box_stats["lo"], box_stats["q3"]], [BY, BY], [box_stats["q1"], box_stats["hi"]], [BY, BY], line_color="black", line_width=1.5)
p4.segment([box_stats["lo"], box_stats["hi"]], [BY - 0.00008, BY - 0.00008], [box_stats["lo"], box_stats["hi"]], [BY + 0.00008, BY + 0.00008], line_color="black", line_width=1.5)
p4.quad(left=[box_stats["q1"]], right=[box_stats["q3"]], bottom=[BY - BH], top=[BY + BH], fill_color="white", line_color="black", line_width=1.5)
p4.segment([box_stats["med"]], [0.00318], [box_stats["med"]], [BY + BH], line_color="#0000cd", line_width=1.5)
lab(76, 805, "Histogram, PDF and Box-plot of Residuals perpendicular to surface tangent", size=TITLE)
lab(566, 892, "Median: 48 \u00b5m | 1.9 thou")
lab(481, 1023, "60.7%", align="center")
lab(14, 944, "Density", size=13.3, align="center", angle=math.pi / 2)
lab(1264, 944, "Relative Frequency", size=13.3, align="center", angle=math.pi / 2)
sig_px = [257, 480.5, 704.5, 928, 1151.8]
for i, px in enumerate(sig_px):
    st = "bold" if i == 1 else "normal"
    lab(px, 1041, sigma_name[i], align="center", fstyle=st)
    lab(px, 1055.5, sigma_micron[i], align="center", fstyle=st)
    lab(px, 1069.5, sigma_thou[i], align="center", fstyle=st)
sheet.quad(left=[69.5], right=[95], top=[836], bottom=[846], fill_color=TEAL, line_color="black", line_width=1.5)
lab(105, 841.5, "Histogram")
sheet.line([197, 223], [841.5, 841.5], line_color=ORANGE, line_width=1.5)
lab(233, 841.5, "KDE")
sheet.line([285, 311], [841.5, 841.5], line_color=BLUE, line_width=1.5)
lab(320, 841.5, "Theoretical PDF")

layout = column(row(p0, p1, p2, spacing=0), p3, p4, spacing=0)
open("out.html", "w").write(file_html([layout, sheet], INLINE))
